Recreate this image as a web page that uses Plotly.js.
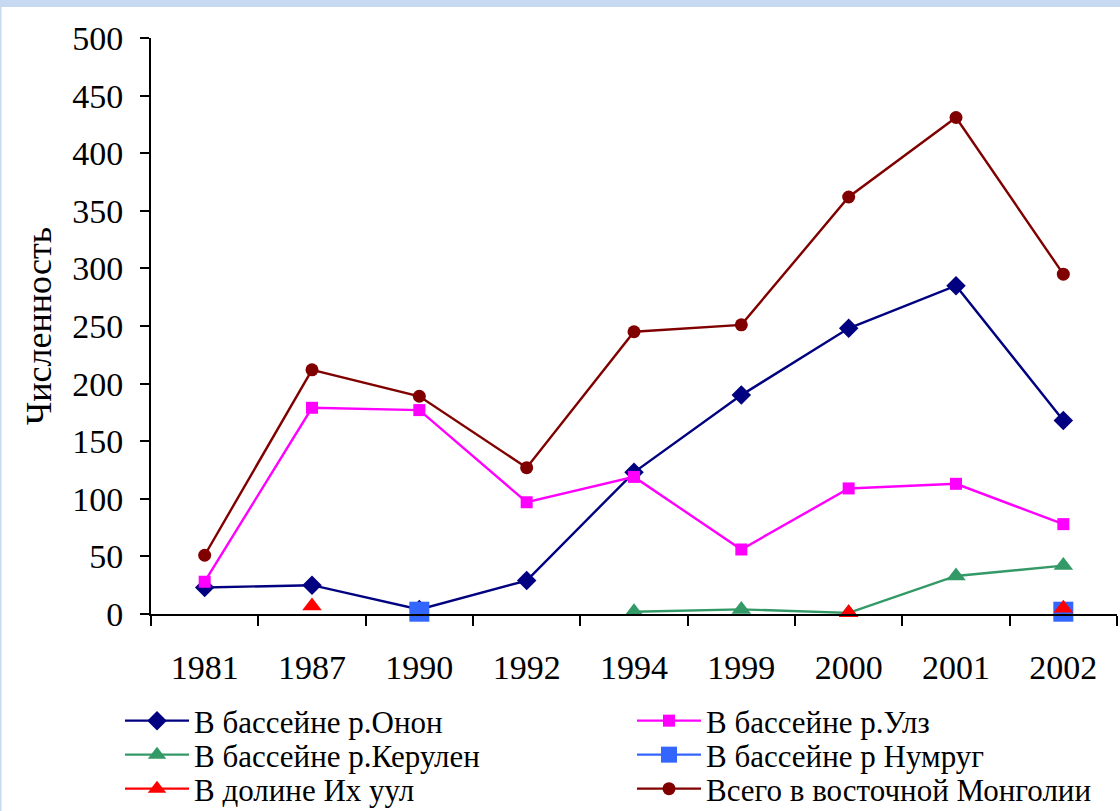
<!DOCTYPE html>
<html>
<head>
<meta charset="utf-8">
<script src="https://cdn.plot.ly/plotly-3.0.1.min.js"></script>
<style>
html,body{margin:0;padding:0;background:#fff;}
#chart{width:1120px;height:811px;}
</style>
</head>
<body>
<div id="chart"></div>
<script>
const years = ['1981','1987','1990','1992','1994','1999','2000','2001','2002'];
const onon    = [23, 25, 4, 29, 123, 190, 248, 285, 168];
const ulz     = [28, 179, 177, 97, 119, 56, 109, 113, 78];
const kerulen = [null, null, null, null, 2, 4, 1, 33, 42];
const numrug  = [null, null, 2, null, null, null, null, null, 2];
const ikhUul  = [null, 7, null, null, null, null, 1, null, 5];
const total   = [51, 212, 189, 127, 245, 251, 362, 431, 295];

const names = ['В бассейне р.Онон','В бассейне р.Улз','В бассейне р.Керулен','В бассейне р Нумруг','В долине Их уул','Всего в восточной Монголии'];

const FONT = 'Liberation Serif';

function tr(y, name, color, symbol, size, lw, leg){
  return {
    x: years, y: y, name: name, type: 'scatter', mode: 'lines+markers',
    line: {color: color, width: lw}, connectgaps: false,
    marker: {color: color, symbol: symbol, size: size},
    cliponaxis: false, legend: leg
  };
}

const data = [
  tr(onon, names[0], '#000080', 'diamond', 15, 2.4, 'legend'),
  tr(ulz, names[1], '#FF00FF', 'square', 12, 2.4, 'legend'),
  tr(kerulen, names[2], '#339966', 'triangle-up', 17, 2.4, 'legend2'),
  tr(numrug, names[3], '#3366FF', 'square', 20, 2.4, 'legend2'),
  tr(ikhUul, names[4], '#FF0000', 'triangle-up', 17, 2.4, 'legend3'),
  tr(total, names[5], '#800000', 'circle', 13, 2.4, 'legend3')
];

function leg(centerY){
  return {
    orientation: 'h', xref: 'paper', yref: 'paper',
    x: (120-151)/966, y: (614-centerY)/576, xanchor: 'left', yanchor: 'middle',
    entrywidth: 433, entrywidthmode: 'pixels',
    itemwidth: 64, tracegroupgap: 0,
    font: {family: FONT, size: 31, color: '#000'},
    bgcolor: 'rgba(0,0,0,0)', borderwidth: 0
  };
}

const layout = {
  width: 1120, height: 811,
  paper_bgcolor: '#ffffff', plot_bgcolor: '#ffffff',
  margin: {l: 151, r: 3, t: 38, b: 197, pad: 0, autoexpand: false},
  font: {family: FONT, color: '#000', size: 30},
  showlegend: true,
  xaxis: {
    type: 'category', range: [-0.5, 8.5], tickson: 'boundaries',
    ticks: 'outside', ticklen: 10, tickwidth: 2, tickcolor: '#000',
    showline: true, linecolor: '#000', linewidth: 2,
    showgrid: false, zeroline: false, fixedrange: true, automargin: false,
    tickfont: {family: FONT, size: 34, color: '#000'},
    ticklabelstandoff: 22
  },
  yaxis: {
    range: [0, 500], dtick: 50, tick0: 0,
    ticks: 'outside', ticklen: 9, tickwidth: 2, tickcolor: '#000',
    showline: true, linecolor: '#000', linewidth: 2,
    showgrid: false, zeroline: false, fixedrange: true, automargin: false,
    tickfont: {family: FONT, size: 34, color: '#000'},
    ticklabelstandoff: 10,
    title: {text: 'Численность', font: {family: FONT, size: 36, color: '#000'}, standoff: 10}
  },
  legend: leg(721),
  legend2: leg(755),
  legend3: leg(789),
  shapes: [
    {type: 'rect', xref: 'paper', yref: 'paper', x0: -0.2, x1: 1.05, y0: (614-7)/576, y1: 1.1,
     fillcolor: '#C6D9F1', line: {width: 0}, layer: 'below'},
    {type: 'rect', xref: 'paper', yref: 'paper', x0: -0.2, x1: (1.5-151)/966, y0: -0.4, y1: 1.1,
     fillcolor: '#C6D9F1', line: {width: 0}, layer: 'below'}
  ]
};

Plotly.newPlot('chart', data, layout, {staticPlot: true, displayModeBar: false});
</script>
</body>
</html>
